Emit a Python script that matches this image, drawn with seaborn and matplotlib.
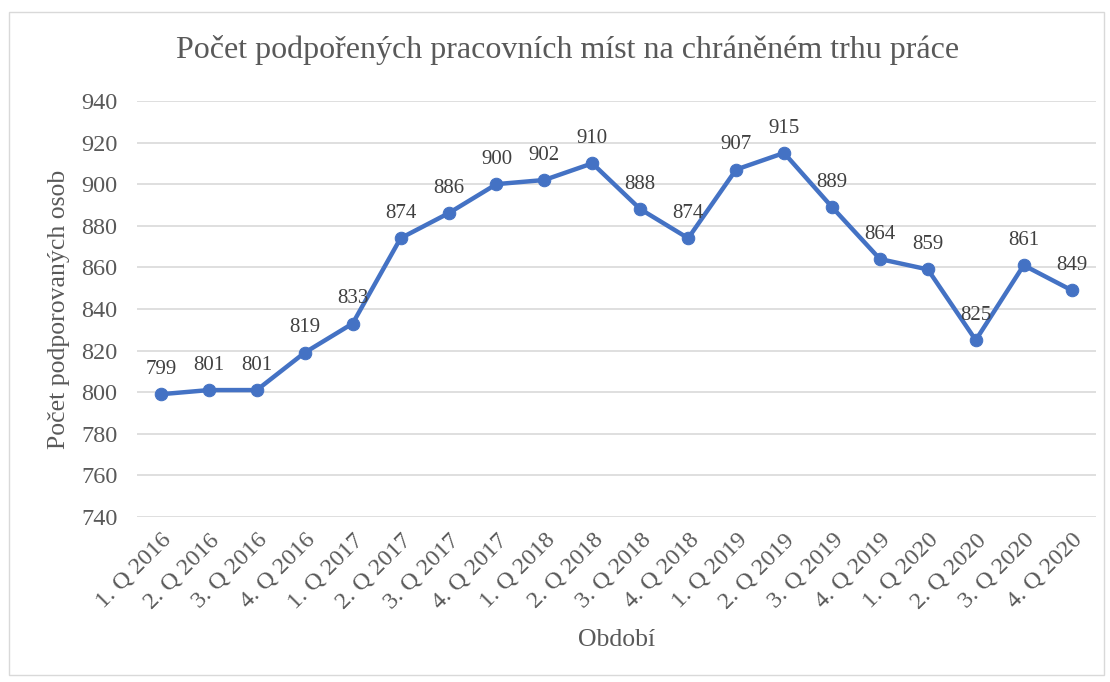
import matplotlib
matplotlib.use("Agg")
import matplotlib.pyplot as plt
import seaborn as sns
import pandas as pd
from matplotlib.patches import Rectangle

# Data
quarters = ["1. Q 2016", "2. Q 2016", "3. Q 2016", "4. Q 2016",
            "1. Q 2017", "2. Q 2017", "3. Q 2017", "4. Q 2017",
            "1. Q 2018", "2. Q 2018", "3. Q 2018", "4. Q 2018",
            "1. Q 2019", "2. Q 2019", "3. Q 2019", "4. Q 2019",
            "1. Q 2020", "2. Q 2020", "3. Q 2020", "4. Q 2020"]
jobs = [799, 801, 801, 819, 833, 874, 886, 900, 902, 910,
        888, 874, 907, 915, 889, 864, 859, 825, 861, 849]
yticks = [740, 760, 780, 800, 820, 840, 860, 880, 900, 920, 940]

df = pd.DataFrame({"quarter": quarters, "jobs": jobs})

sns.set_theme(style="white")
plt.rcParams["font.family"] = ["Liberation Serif", "DejaVu Serif"]

text_col = "#595959"
line_col = "#4472C4"

fig = plt.figure(figsize=(11.1, 6.82), dpi=100)
ax = fig.add_axes([0.1234, 0.242, 0.8636, 0.61])

sns.lineplot(data=df, x="quarter", y="jobs", sort=False, ax=ax,
             color=line_col, linewidth=3.2, marker="o", markersize=9,
             markeredgecolor=line_col)

# data labels
for i, v in enumerate(df["jobs"]):
    ax.annotate(str(v), (i, v), xytext=(0, 11), textcoords="offset points",
                ha="center", va="bottom", fontsize=15, color="#404040")

ax.set_xlim(-0.5, len(quarters) - 0.5)
ax.set_ylim(740, 940)
ax.set_yticks(yticks)
ax.set_xticks(range(len(quarters)))
ax.set_xticklabels(quarters, rotation=45, ha="right", rotation_mode="anchor")
ax.tick_params(axis="both", length=0, labelsize=17.5, labelcolor=text_col)
ax.tick_params(axis="x", pad=9)
ax.tick_params(axis="y", pad=14)
ax.yaxis.grid(True, color="#d9d9d9", linewidth=1.2)
ax.xaxis.grid(False)
for s in ax.spines.values():
    s.set_visible(False)

ax.set_xlabel("Období", fontsize=18.5, color=text_col, labelpad=12)
ax.set_ylabel("Počet podporovaných osob", fontsize=18.5, color=text_col, labelpad=8)
fig.text(0.511, 0.927, "Počet podpořených pracovních míst na chráněném trhu práce",
         ha="center", va="center", fontsize=23, color=text_col)

# outer chart border
fig.patches.append(Rectangle((0.008, 0.01), 0.987, 0.972, transform=fig.transFigure,
                             fill=False, edgecolor="#d9d9d9", linewidth=1))

fig.savefig("out.png", dpi=100)
